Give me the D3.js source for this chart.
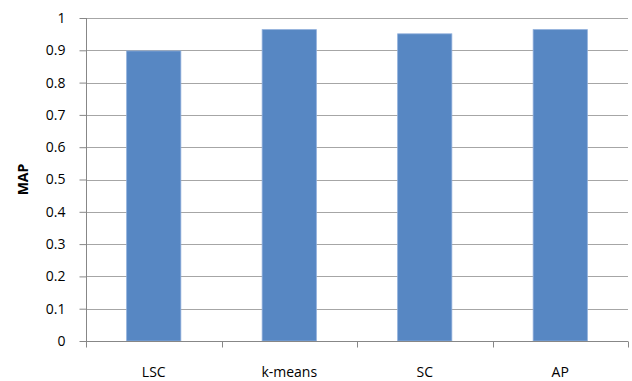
<!DOCTYPE html>
<html>
<head>
<meta charset="utf-8">
<script src="https://cdn.jsdelivr.net/npm/d3@7"></script>
<style>
  html, body { margin: 0; padding: 0; background: #fff; }
  svg { display: block; }
  text { font-family: "Open Sans", Lato, sans-serif; fill: #000; }
</style>
</head>
<body>
<div id="chart"></div>
<script>
// Mean average precision per clustering method
const categories = ["LSC", "k-means", "SC", "AP"];
const mapValues = [0.898, 0.964, 0.951, 0.964];
const yTicks = [0, 0.1, 0.2, 0.3, 0.4, 0.5, 0.6, 0.7, 0.8, 0.9, 1];
const yTickLabels = ["0", "0.1", "0.2", "0.3", "0.4", "0.5", "0.6", "0.7", "0.8", "0.9", "1"];

const width = 632, height = 381;
const margin = { top: 18, right: 4, bottom: 40, left: 86 };
const innerW = width - margin.left - margin.right;
const innerH = height - margin.top - margin.bottom;

const svg = d3.select("#chart").append("svg")
  .attr("width", width)
  .attr("height", height);

const g = svg.append("g")
  .attr("transform", `translate(${margin.left},${margin.top})`);

const x = d3.scaleBand().domain(categories).range([0, innerW]).padding(0);
const y = d3.scaleLinear().domain([0, 1]).range([innerH, 0]);

// Horizontal gridlines
g.append("g").selectAll("line")
  .data(yTicks.filter(t => t > 0))
  .join("line")
  .attr("x1", 0).attr("x2", innerW)
  .attr("y1", d => Math.round(y(d)) + 0.5)
  .attr("y2", d => Math.round(y(d)) + 0.5)
  .attr("stroke", "#a6a6a6")
  .attr("stroke-width", 1);

// Bars
const barFrac = 0.4;
g.append("g").selectAll("rect")
  .data(categories.map((c, i) => ({ c, v: mapValues[i] })))
  .join("rect")
  .attr("x", d => x(d.c) + x.bandwidth() * (1 - barFrac) / 2)
  .attr("width", x.bandwidth() * barFrac)
  .attr("y", d => y(d.v))
  .attr("height", d => innerH - y(d.v))
  .attr("fill", "#5787c3")
  .attr("stroke", "#8eaedb")
  .attr("stroke-width", 0.8);

// Y axis
const yAxis = d3.axisLeft(y)
  .tickValues(yTicks)
  .tickFormat((d, i) => yTickLabels[i])
  .tickSize(7)
  .tickPadding(14);
const ya = g.append("g").attr("transform", "translate(0.5,0)").call(yAxis);
ya.select(".domain").attr("stroke", "#878787").attr("d", `M0,${innerH}V0`);
ya.selectAll(".tick line").attr("stroke", "#878787");
ya.selectAll(".tick text")
  .style("font-size", "14px")
  .style("font-family", "'Open Sans', Lato, sans-serif")
  .attr("fill", "#000");

// X axis with ticks at category boundaries
const xa = g.append("g").attr("transform", `translate(0,${Math.round(innerH) + 0.5})`);
xa.append("line")
  .attr("x1", 0).attr("x2", innerW)
  .attr("stroke", "#878787");
const boundaries = categories.map(c => x(c)).concat([innerW]);
xa.selectAll("line.tk")
  .data(boundaries)
  .join("line")
  .attr("class", "tk")
  .attr("x1", d => Math.round(d) + 0.5).attr("x2", d => Math.round(d) + 0.5)
  .attr("y1", 0).attr("y2", 6)
  .attr("stroke", "#878787");
xa.selectAll("text")
  .data(categories)
  .join("text")
  .attr("x", d => x(d) + x.bandwidth() / 2)
  .attr("y", 35.5)
  .attr("text-anchor", "middle")
  .style("font-size", "14px")
  .text(d => d);

// Y axis title
svg.append("text")
  .attr("transform", `translate(28,${margin.top + innerH / 2}) rotate(-90)`)
  .attr("text-anchor", "middle")
  .style("font-size", "14px")
  .style("font-weight", "bold")
  .text("MAP");
</script>
</body>
</html>
